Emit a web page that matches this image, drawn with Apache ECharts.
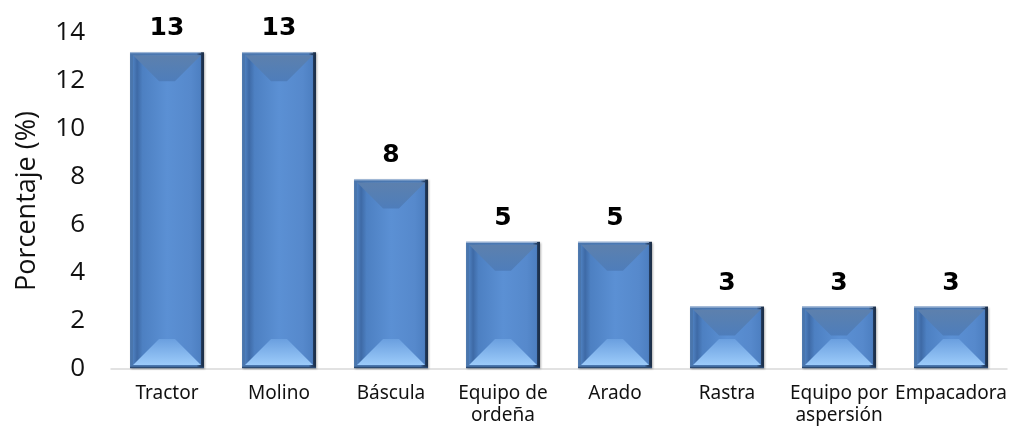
<!DOCTYPE html>
<html>
<head>
<meta charset="utf-8">
<script src="https://cdn.jsdelivr.net/npm/echarts@6/dist/echarts.min.js"></script>
<style>
html,body{margin:0;padding:0;background:#fff;}
#c{width:1010px;height:427px;}
</style>
</head>
<body>
<div id="c"></div>
<script>
const categories = ['Tractor', 'Molino', 'Báscula', 'Equipo de\nordeña', 'Arado', 'Rastra', 'Equipo por\naspersión', 'Empacadora'];
const values = [13.2, 13.2, 7.9, 5.3, 5.3, 2.6, 2.6, 2.6];
const yMin = 0, yMax = 14, yStep = 2;
const yName = 'Porcentaje (%)';

const chart = echarts.init(document.getElementById('c'), null, {renderer: 'canvas'});

function lg(x, y, x2, y2, stops) {
  return new echarts.graphic.LinearGradient(x, y, x2, y2, stops.map(s => ({offset: s[0], color: s[1]})));
}

function renderItem(params, api) {
  const idx = api.value(0), v = api.value(1);
  const top = api.coord([idx, v]);
  const base = api.coord([idx, 0]);
  const band = api.size([1, 0])[0];
  const w = band * 0.66;
  const x0 = top[0] - w / 2, x1 = top[0] + w / 2, y0 = top[1], y1 = base[1] - 1;
  const h = y1 - y0;
  const f = 3;
  const ix0 = x0 + f, ix1 = x1 - f, iy0 = y0 + f, iy1 = y1 - f;
  const b = Math.min(26, (iy1 - iy0) / 2 - 1, (ix1 - ix0) / 2);
  return {
    type: 'group',
    children: [
      {type: 'rect', shape: {x: x0, y: y0, width: w, height: h},
        style: {fill: lg(0, 0, 1, 0, [[0, '#4a76ad'], [0.9, '#4a78b3'], [0.94, '#2c4a74'], [1, '#15263d']]),
          shadowBlur: 2, shadowColor: 'rgba(0,0,0,0.3)', shadowOffsetX: 1, shadowOffsetY: 1}},
      {type: 'rect', shape: {x: ix0, y: iy0, width: ix1 - ix0, height: iy1 - iy0},
        style: {fill: lg(0, 0, 1, 0, [[0, '#4e80c0'], [0.06, '#3e6aa6'], [0.14, '#4d80c2'], [0.5, '#5b90d4'], [0.85, '#5689cc'], [1, '#4d7fc1']])}},
      {type: 'polygon', shape: {points: [[ix0, iy0], [ix1, iy0], [ix1 - b, iy0 + b], [ix0 + b, iy0 + b]]},
        style: {fill: lg(0, 0, 0, 1, [[0, '#5d80ad'], [0.5, '#557fb4'], [1, '#4e7dbb']])}},
      {type: 'polygon', shape: {points: [[ix0, iy1], [ix1, iy1], [ix1 - b, iy1 - b], [ix0 + b, iy1 - b]]},
        style: {fill: lg(0, 0, 0, 1, [[0, '#6a9fdf'], [1, '#9ccbfa']])}},
      {type: 'line', shape: {x1: x0, y1: y0 + 0.5, x2: x1 - 3, y2: y0 + 0.5},
        style: {stroke: '#a9bfdc', lineWidth: 1}},
      {type: 'line', shape: {x1: x0, y1: y1 - 0.5, x2: x1, y2: y1 - 0.5},
        style: {stroke: '#2b4a72', lineWidth: 1.5}},
      {type: 'text', x: top[0], y: y0 - 11,
        style: {text: String(Math.round(v)), fill: '#000', font: 'bold 25px "DejaVu Sans", sans-serif',
          align: 'center', verticalAlign: 'bottom'}}
    ]
  };
}

chart.setOption({
  animation: false,
  grid: {left: 111, right: 3, top: 33, bottom: 58, containLabel: false},
  xAxis: {
    type: 'category', data: categories, boundaryGap: true,
    axisTick: {show: false},
    axisLine: {show: true, lineStyle: {color: '#d9d9d9', width: 1.5}},
    axisLabel: {color: '#111', fontSize: 19, fontFamily: '"Noto Sans", sans-serif', margin: 14, lineHeight: 22, interval: 0}
  },
  yAxis: {
    type: 'value', min: yMin, max: yMax, interval: yStep,
    name: yName, nameLocation: 'middle', nameGap: 70, nameRotate: 90,
    nameTextStyle: {color: '#111', fontSize: 27, fontFamily: '"Open Sans", sans-serif'},
    axisLine: {show: false}, axisTick: {show: false}, splitLine: {show: false},
    axisLabel: {color: '#111', fontSize: 26, fontFamily: '"Open Sans", sans-serif', margin: 26}
  },
  series: [{
    type: 'custom',
    renderItem: renderItem,
    data: values.map((v, i) => [i, v]),
    encode: {x: 0, y: 1}
  }]
});
</script>
</body>
</html>
